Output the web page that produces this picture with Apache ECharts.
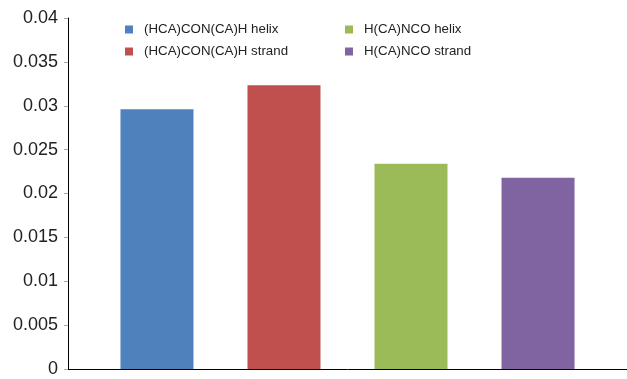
<!DOCTYPE html>
<html>
<head>
<meta charset="utf-8">
<script src="https://cdn.jsdelivr.net/npm/echarts@6/dist/echarts.min.js"></script>
<style>html,body{margin:0;padding:0;background:#fff;}#c{width:627px;height:379px;}</style>
</head>
<body>
<div id="c"></div>
<script>
const categories = [''];
const seriesNames = ['(HCA)CON(CA)H helix', '(HCA)CON(CA)H strand', 'H(CA)NCO helix', 'H(CA)NCO strand'];
const seriesValues = [0.0296, 0.03235, 0.0234, 0.0218];
const seriesColors = ['#4F81BD', '#C0504D', '#9BBB59', '#8064A2'];
const yTicks = [0, 0.005, 0.01, 0.015, 0.02, 0.025, 0.03, 0.035, 0.04];

const chart = echarts.init(document.getElementById('c'));
const font = 'Liberation Sans, Arial, sans-serif';
const legendBase = {
  orient: 'vertical', top: 18, itemWidth: 8, itemHeight: 8, itemGap: 9,
  icon: 'rect', textStyle: {fontFamily: font, fontSize: 13.3, color: '#222', padding: [0,0,0,6]}
};
chart.setOption({
  animation: false,
  legend: [
    Object.assign({}, legendBase, {left: 120, data: [seriesNames[0], seriesNames[1]]}),
    Object.assign({}, legendBase, {left: 340, data: [seriesNames[2], seriesNames[3]]})
  ],
  grid: {left: 68, right: -2, top: 18, bottom: 10, containLabel: false},
  xAxis: {
    type: 'category', data: categories,
    axisLine: {lineStyle: {color: '#000', width: 1}},
    axisTick: {show: false},
    axisLabel: {show: false}
  },
  yAxis: {
    type: 'value', min: yTicks[0], max: yTicks[yTicks.length - 1], interval: yTicks[1] - yTicks[0],
    axisLine: {show: true, lineStyle: {color: '#000', width: 1}},
    axisTick: {show: true, length: 4, lineStyle: {color: '#aaa'}},
    splitLine: {show: false},
    axisLabel: {fontFamily: font, fontSize: 18, color: '#222', margin: 10,
      formatter: v => String(+v.toFixed(3))}
  },
  series: seriesNames.map((n, i) => ({
    name: n, type: 'bar', barWidth: 73, barGap: '74%',
    itemStyle: {color: seriesColors[i]},
    data: [seriesValues[i]]
  }))
});
</script>
</body>
</html>
